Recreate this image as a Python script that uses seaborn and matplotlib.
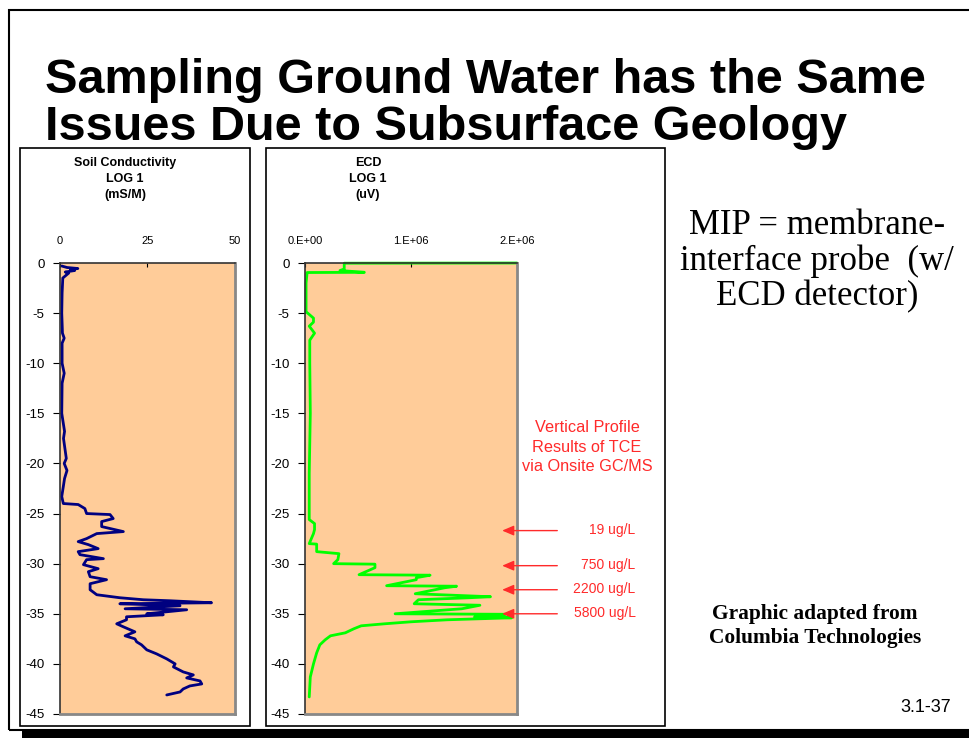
import numpy as np
import matplotlib
matplotlib.use("Agg")
import matplotlib.pyplot as plt
import seaborn as sns
from matplotlib.patches import Rectangle

# soil conductivity log (mS/M) vs depth (ft)
soil_depth = [-0.3, -0.45, -0.55, -0.65, -0.75, -0.9, -1.0, -1.5, -3.0, -5.0, -7.0, -7.5, -8.0, -10.0,
              -11.0, -12.0, -15.0, -16.8, -17.5, -19.5, -20.0, -20.7, -21.5, -22.3, -23.3, -24.0,
              -24.1, -24.5, -25.0, -25.1, -25.5, -25.8, -26.3, -26.8, -27.0, -27.5, -27.8, -28.1,
              -28.5, -28.8, -29.1, -29.5, -29.6, -30.1, -30.5, -30.8, -31.3, -31.6, -32.0, -32.6,
              -33.1, -33.4, -33.6, -33.7, -33.9, -34.0, -34.2, -34.5, -34.6, -35.0, -35.1, -35.3,
              -35.6, -36.0, -36.3, -36.8, -37.2, -37.5, -37.8, -38.1, -38.6, -39.0, -39.5, -40.0,
              -40.3, -40.8, -41.1, -41.4, -41.7, -42.0, -42.2, -42.5, -42.8, -43.1]
soil_cond = [0.5, 2.0, 5.1, 3.0, 4.2, 1.5, 2.5, 0.8, 0.6, 0.5, 0.7, 1.2, 0.6, 0.6,
             1.2, 0.6, 0.5, 1.3, 1.0, 1.8, 1.2, 2.0, 1.3, 0.95, 0.5, 0.95,
             5.2, 7.1, 7.6, 14.3, 15.2, 11.9, 11.9, 18.1, 10.5, 7.6, 5.2, 8.1,
             10.9, 5.2, 5.7, 12.4, 7.6, 6.7, 10.9, 8.1, 8.6, 13.3, 8.6, 8.6,
             10.5, 17.1, 23.8, 31.4, 43.3, 17.1, 34.3, 18.6, 36.2, 24.8, 29.5, 19.0,
             19.0, 16.2, 18.1, 21.4, 18.6, 21.4, 21.9, 23.3, 24.8, 27.6, 30.5, 32.9,
             32.4, 35.2, 38.1, 36.2, 40.0, 40.5, 37.1, 35.2, 34.3, 30.5]

# ECD log (uV) vs depth (ft)
ecd_depth = [0.0, -0.02, -0.6, -0.75, -0.93, -0.95, -2.0, -4.86, -5.5, -5.9, -6.3, -7.0, -7.7, -10.0,
             -15.0, -21.0, -25.6, -26.0, -26.6, -27.0, -28.0, -28.05, -28.5, -28.8, -29.0, -29.6,
             -30.0, -30.05, -30.4, -31.1, -31.15, -31.4, -31.6, -32.2, -32.25, -32.4, -33.0, -33.3,
             -33.4, -33.6, -34.0, -34.15, -34.5, -35.0, -35.05, -35.3, -35.4, -35.6, -35.8, -36.0,
             -36.2, -36.5, -36.9, -37.2, -37.6, -38.1, -38.9, -40.0, -41.3, -43.3]
ecd_val = [2.0e6, 0.37e6, 0.37e6, 0.33e6, 0.56e6, 0.02e6, 0.01e6, 0.01e6, 0.08e6, 0.08e6, 0.04e6, 0.09e6, 0.045e6, 0.045e6,
           0.05e6, 0.04e6, 0.04e6, 0.09e6, 0.09e6, 0.08e6, 0.04e6, 0.11e6, 0.11e6, 0.11e6, 0.32e6, 0.31e6,
           0.27e6, 0.66e6, 0.66e6, 0.51e6, 1.18e6, 1.05e6, 1.05e6, 0.77e6, 1.43e6, 1.32e6, 1.04e6, 1.75e6,
           1.55e6, 1.07e6, 1.03e6, 1.65e6, 1.48e6, 0.85e6, 1.89e6, 1.6e6, 1.95e6, 1.34e6, 1.0e6, 0.75e6,
           0.53e6, 0.46e6, 0.38e6, 0.24e6, 0.19e6, 0.14e6, 0.11e6, 0.08e6, 0.05e6, 0.04e6]

# onsite GC/MS results
tce_labels = ["19 ug/L", "750 ug/L", "2200 ug/L", "5800 ug/L"]
tce_depth = [-26.7, -30.2, -32.6, -35.0]

depth_ticks = [0, -5, -10, -15, -20, -25, -30, -35, -40, -45]

W, H = 970, 738
sns.set_style("white")
plt.rcParams['font.family'] = ['Liberation Sans', 'DejaVu Sans']
plt.rcParams['text.color'] = 'black'
plt.rcParams['xtick.color'] = 'black'
plt.rcParams['ytick.color'] = 'black'
fig = plt.figure(figsize=(W / 100, H / 100), dpi=100)
ORANGE = "#FFCC99"
RED = "#FF2A2A"


def fx(px):
    return px / W


def fy(py):
    return 1 - py / H


# slide frame, shadow and panel boxes
fig.patches.append(Rectangle((fx(22), fy(738)), fx(948), 7 / H, transform=fig.transFigure,
                             facecolor="black", edgecolor="none"))
fig.patches.append(Rectangle((fx(9), fy(730)), fx(980), (730 - 10) / H, transform=fig.transFigure,
                             facecolor="none", edgecolor="black", lw=1.5))
for x0, x1 in [(20, 250), (266, 665)]:
    fig.patches.append(Rectangle((fx(x0), fy(726)), fx(x1 - x0), (726 - 148) / H,
                                 transform=fig.transFigure, facecolor="none",
                                 edgecolor="black", lw=1.2))


def style_axis(ax, xmax, xticks, xlabels):
    ax.set_facecolor(ORANGE)
    ax.set_ylim(-45, 0)
    ax.set_xlim(0, xmax)
    ax.set_yticks(depth_ticks)
    ax.set_yticklabels([str(t) for t in depth_ticks], fontsize=9.5)
    ax.xaxis.tick_top()
    ax.set_xticks(xticks)
    ax.set_xticklabels(xlabels, fontsize=8)
    ax.tick_params(axis="x", direction="in", length=3, pad=12, top=True, bottom=False)
    ax.tick_params(axis="y", direction="out", length=5, pad=6, left=True)
    ax.set_xlabel("")
    ax.set_ylabel("")
    for side in ["left", "top"]:
        ax.spines[side].set_color("#333333")
        ax.spines[side].set_linewidth(1.2)
    for side in ["right", "bottom"]:
        ax.spines[side].set_color("#888888")
        ax.spines[side].set_linewidth(2)


ax1 = fig.add_axes([fx(60), fy(714), fx(175), (714 - 263) / H])
sns.lineplot(x=soil_cond, y=soil_depth, sort=False, estimator=None, orient="y",
             color="#000080", lw=2, ax=ax1)
style_axis(ax1, 50, [0, 25, 50], ["0", "25", "50"])

ax2 = fig.add_axes([fx(305), fy(714), fx(212), (714 - 263) / H])
sns.lineplot(x=ecd_val, y=ecd_depth, sort=False, estimator=None, orient="y",
             color="#00FF00", lw=2, ax=ax2)
style_axis(ax2, 2e6, [0, 1e6, 2e6], ["0.E+00", "1.E+06", "2.E+06"])
ax2.get_lines()[0].set_clip_on(False)

# panel headings
fig.text(fx(125), fy(179), "Soil Conductivity\nLOG 1\n(mS/M)", ha="center", va="center",
         fontsize=9, fontweight="bold", linespacing=1.4)
fig.text(fx(368), fy(179), "ECD\nLOG 1\n(uV)", ha="center", va="center",
         fontsize=9, fontweight="bold", linespacing=1.4)

# TCE arrows
for lab, d in zip(tce_labels, tce_depth):
    ax2.annotate("", xy=(1.86e6, d), xytext=(2.38e6, d), annotation_clip=False,
                 arrowprops=dict(arrowstyle="-|>,head_length=0.7,head_width=0.3",
                                 color=RED, lw=1, shrinkA=0, shrinkB=0))
    ax2.text(3.12e6, d + 0.1, lab, color=RED, fontsize=10, ha="right", va="center",
             clip_on=False)

fig.text(fx(587), fy(447), "Vertical Profile\nResults of TCE\nvia Onsite GC/MS",
         color=RED, fontsize=11.7, ha="center", va="center", linespacing=1.35)

# slide title and notes
fig.text(fx(45), fy(104), "Sampling Ground Water has the Same\nIssues Due to Subsurface Geology",
         fontsize=35, fontweight="bold", ha="left", va="center", linespacing=1.08)
fig.text(fx(817), fy(261), "MIP = membrane-\ninterface probe  (w/\nECD detector)",
         family=["Liberation Serif", "DejaVu Serif"], fontsize=25, ha="center", va="center",
         linespacing=1.08)
fig.text(fx(815), fy(626), "Graphic adapted from\nColumbia Technologies",
         family=["Liberation Serif", "DejaVu Serif"], fontsize=15.4, fontweight="bold",
         ha="center", va="center", linespacing=1.3)
fig.text(fx(951), fy(707), "3.1-37", fontsize=13, ha="right", va="center")

fig.savefig("out.png", dpi=100)
